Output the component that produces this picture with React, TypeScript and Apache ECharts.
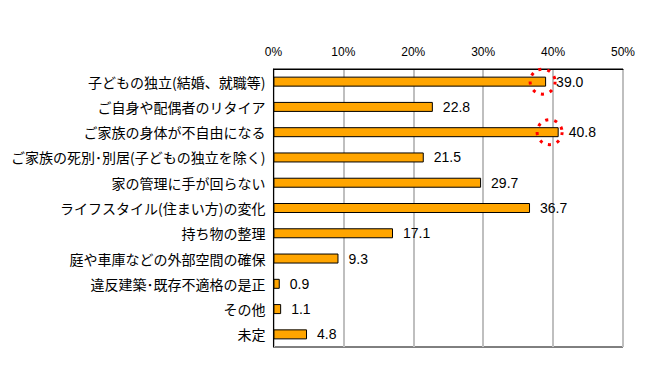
import React, { useEffect, useRef } from "react";
import * as echarts from "echarts";

const categories = [
  "子どもの独立（結婚、就職等）",
  "ご自身や配偶者のリタイア",
  "ご家族の身体が不自由になる",
  "ご家族の死別・別居（子どもの独立を除く）",
  "家の管理に手が回らない",
  "ライフスタイル（住まい方）の変化",
  "持ち物の整理",
  "庭や車庫などの外部空間の確保",
  "違反建築・既存不適格の是正",
  "その他",
  "未定",
];
const values = [39.0, 22.8, 40.8, 21.5, 29.7, 36.7, 17.1, 9.3, 0.9, 1.1, 4.8];
const highlightCategories = [0, 2];
const highlightValues = [38.5, 39.5];
const xTicks = [0, 10, 20, 30, 40, 50];

// proportional-looking punctuation, as in the reference's font
const narrow = (s: string) =>
  s.replace(/（/g, "(").replace(/）/g, ")").replace(/・/g, "･");

export default function App() {
  const ref = useRef<HTMLDivElement>(null);
  useEffect(() => {
    if (!ref.current) return;
    const chart = echarts.init(ref.current, null, { renderer: "svg" });
    chart.setOption({
      animation: false,
      grid: {
        left: 260,
        right: 39,
        top: 61,
        bottom: 10,
        show: true,
        borderColor: "#000",
        borderWidth: 1,
        backgroundColor: "transparent",
      },
      xAxis: {
        type: "value",
        position: "top",
        min: xTicks[0],
        max: xTicks[xTicks.length - 1],
        interval: 10,
        axisLine: { show: true, lineStyle: { color: "#000", width: 1 } },
        axisTick: { show: false },
        axisLabel: {
          formatter: "{value}%",
          color: "#000",
          fontSize: 12,
          fontFamily: "Liberation Sans",
          margin: 11,
        },
        splitLine: { show: true, lineStyle: { color: "#bfbfbf", width: 2 } },
      },
      yAxis: {
        type: "category",
        inverse: true,
        data: categories,
        axisLine: { show: true, lineStyle: { color: "#000", width: 1 } },
        axisTick: { show: false },
        axisLabel: {
          color: "#000",
          fontSize: 14,
          fontFamily: "Noto Sans CJK JP",
          margin: 8,
          formatter: (v: string) => narrow(v),
        },
      },
      series: [
        {
          type: "bar",
          data: values,
          barWidth: 10,
          itemStyle: { color: "#FFA500", borderColor: "#000", borderWidth: 1 },
          label: {
            show: true,
            position: "right",
            distance: 10,
            formatter: (p: any) => p.value.toFixed(1),
            color: "#000",
            fontSize: 14,
            fontFamily: "Liberation Sans",
          },
          markPoint: {
            symbol: "circle",
            symbolSize: 25,
            silent: true,
            label: { show: false },
            itemStyle: {
              color: "rgba(0,0,0,0)",
              borderColor: "#ff0000",
              borderWidth: 3,
              borderType: [3, 6],
            },
            data: highlightCategories.map((c, i) => ({
              coord: [highlightValues[i], categories[c]],
            })),
          },
        },
      ],
    });
    return () => chart.dispose();
  }, []);
  return <div ref={ref} style={{ width: 654, height: 349 }} />;
}
